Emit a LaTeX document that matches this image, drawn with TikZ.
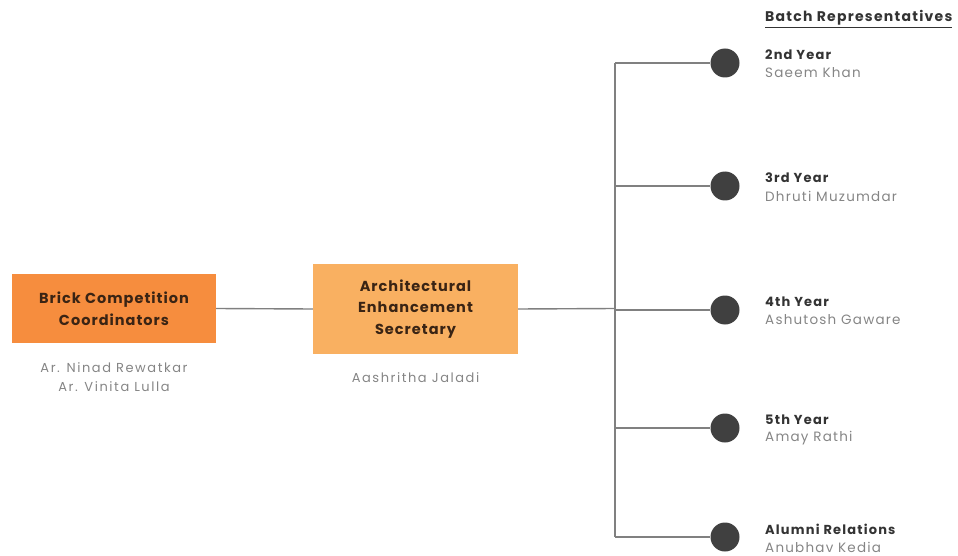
\documentclass[tikz,border=0pt]{standalone}
\usepackage{fontspec}
\setmainfont{Poppins}
\newfontfamily\boxfont[LetterSpace=7]{Poppins}
\newfontfamily\peoplefont[LetterSpace=12]{Poppins}
\newfontfamily\listfont[LetterSpace=9]{Poppins}
\definecolor{boxdark}{HTML}{F68D3E}
\definecolor{boxlight}{HTML}{F9B061}
\definecolor{boxtext}{HTML}{3A2414}
\definecolor{wire}{HTML}{808080}
\definecolor{dot}{HTML}{404040}
\definecolor{headtext}{HTML}{333333}
\definecolor{nametext}{HTML}{858585}
\begin{document}
\begin{tikzpicture}[x=1pt,y=-1pt,
  rolebox/.style={rectangle,inner sep=0pt,align=center,text=boxtext,
    font=\boxfont\fontsize{14.5}{21.5}\selectfont\bfseries},
  person/.style={align=center,text=nametext,font=\peoplefont\fontsize{13}{19}\selectfont},
  wireline/.style={draw=wire,line width=1.4pt},
  bullet/.style={circle,fill=dot,minimum size=29pt,inner sep=0pt},
  heading/.style={anchor=west,text=headtext,font=\listfont\fontsize{13}{15}\selectfont\bfseries,inner sep=0pt},
  member/.style={anchor=west,text=nametext,font=\listfont\fontsize{13.5}{15}\selectfont,inner sep=0pt}]
\useasboundingbox (0,0) rectangle (958,556);

% left and middle role boxes
\node[rolebox,fill=boxdark,minimum width=204pt,minimum height=69pt] (brick) at (114,308.5)
  {Brick Competition\\Coordinators};
\node[person] (brickppl) at (114,377) {Ar. Ninad Rewatkar\\Ar. Vinita Lulla};

\node[rolebox,fill=boxlight,minimum width=205pt,minimum height=90pt] (aes) at (415.5,309)
  {Architectural\\Enhancement\\Secretary};
\node[person] (aesppl) at (415.5,378) {Aashritha Jaladi};

% branch spine
\coordinate (hub) at (615,308.5);
\coordinate (top) at (615,63);
\coordinate (bot) at (615,537);

\draw[wireline] (brick.east) -- (aes.west);
\draw[wireline] (aes.east) -- (hub);
\draw[wireline] (top) -- (bot);

% batch representatives
\node[heading,font=\listfont\fontsize{14}{15}\selectfont\bfseries] (title) at (765,19)
  {\underline{Batch Representatives}};

\foreach \n/\y/\yr [count=\i] in {
    63/2nd Year/Saeem Khan,
    186/3rd Year/Dhruti Muzumdar,
    310/4th Year/Ashutosh Gaware,
    428/5th Year/Amay Rathi,
    537/Alumni Relations/Anubhav Kedia} {
  \node[bullet] (b\i) at (725,\n) {};
  \coordinate (j\i) at (615,\n);
  \draw[wireline] (j\i) -- (b\i.west);
  \node[heading] (h\i) at (765,\n-8) {\y};
  \node[member] (m\i) at (765,\n+10) {\yr};
}
\end{tikzpicture}
\end{document}
